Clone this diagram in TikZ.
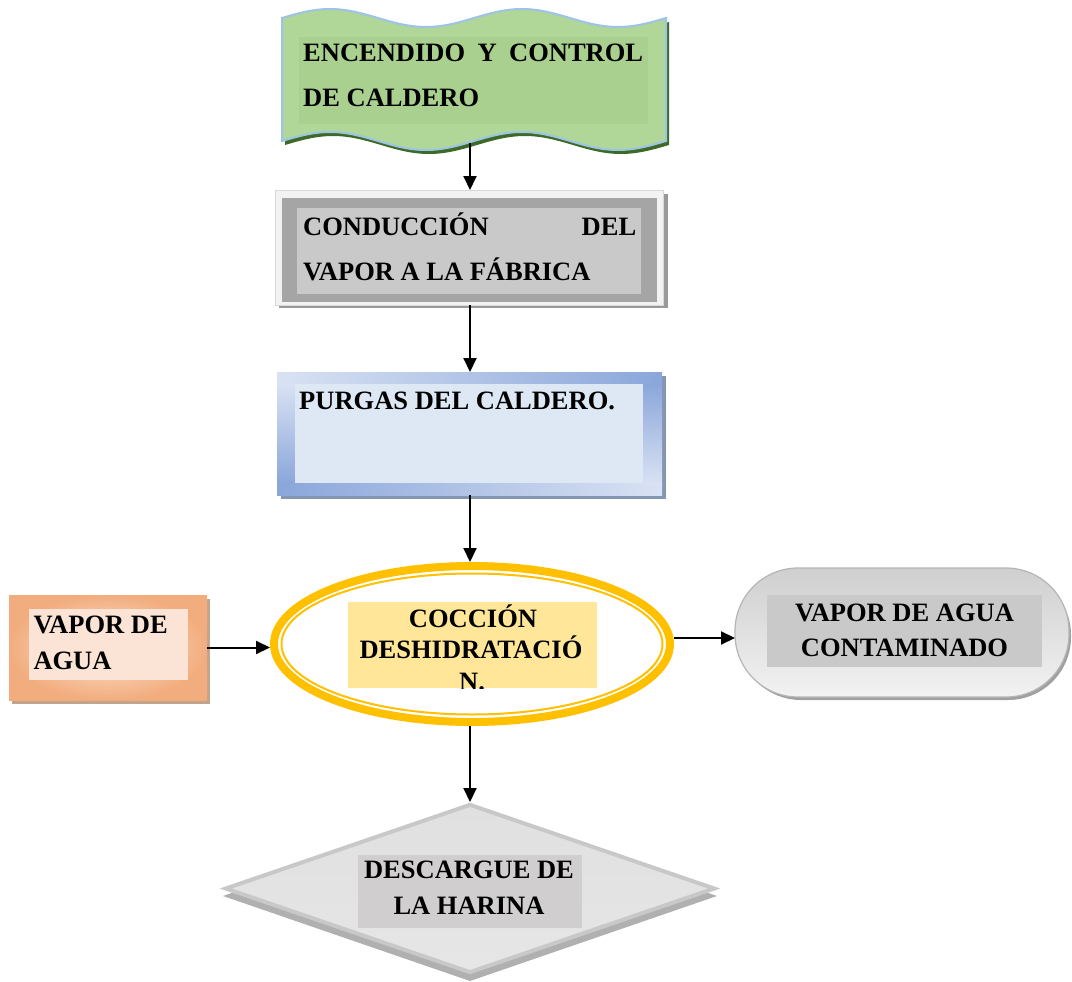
\documentclass[tikz,border=0pt]{standalone}
\usepackage{fontspec}
\setmainfont{Liberation Serif}
\usetikzlibrary{shapes.geometric,arrows.meta,calc}

% palette
\definecolor{wavelight}{HTML}{B0D698}
\definecolor{wavedark}{HTML}{62A23A}
\definecolor{waveshadow}{HTML}{3D6A25}
\definecolor{waveline}{HTML}{9DC3E6}
\definecolor{waveinner}{HTML}{A9D08E}
\definecolor{condlight}{HTML}{F2F2F2}
\definecolor{condedge}{HTML}{D9D9D9}
\definecolor{condmid}{HTML}{A5A5A5}
\definecolor{condinner}{HTML}{C9C9C9}
\definecolor{condshadow}{HTML}{999999}
\definecolor{purdark}{HTML}{8AA6DA}
\definecolor{purlight}{HTML}{D9E2F3}
\definecolor{purinner}{HTML}{DEE8F5}
\definecolor{purshadow}{HTML}{8496B0}
\definecolor{gold}{HTML}{FFC000}
\definecolor{coccinner}{HTML}{FFE699}
\definecolor{vapdark}{HTML}{F2AD7E}
\definecolor{vaplight}{HTML}{FCE6D8}
\definecolor{vapinner}{HTML}{FBE4D5}
\definecolor{vapshadow}{HTML}{C4A38B}
\definecolor{conttop}{HTML}{CFCFCF}
\definecolor{contbottom}{HTML}{F2F2F2}
\definecolor{contedge}{HTML}{B5B5B5}
\definecolor{contshadow}{HTML}{A0A0A0}
\definecolor{continner}{HTML}{C9C9C9}
\definecolor{diaedge}{HTML}{C8C8C8}
\definecolor{diashadow}{HTML}{B0B0B0}
\definecolor{diainner}{HTML}{D0CECE}
\definecolor{diatop}{HTML}{E0E0E0}
\definecolor{diamid}{HTML}{F3F3F3}
\definecolor{diabottom}{HTML}{E6E6E6}

\begin{document}
\begin{tikzpicture}[x=1pt,y=-1pt,
  txt/.style={font=\bfseries\fontsize{26.5}{30}\selectfont, inner sep=0pt, anchor=base west},
  ctxt/.style={txt, anchor=base},
  arr/.style={line width=2pt, -{Triangle[length=14pt,width=13pt]}},
  ghost/.style={inner sep=0pt, outer sep=0pt}]

\useasboundingbox (0,0) rectangle (1072,982);
\coordinate (col) at (470,0);

% ---------- double-wave box: ENCENDIDO Y CONTROL DE CALDERO
\fill[waveshadow, shift={(3,4)}]
  plot[domain=0:384, samples=90] ({282+\x}, {18-9*sin(1.875*\x)})
  -- plot[domain=0:384, samples=90] ({666-\x}, {141-9*sin(1.875*(384-\x))}) -- cycle;
\shade[top color=wavelight, middle color=wavedark, bottom color=wavelight,
       draw=waveline, line width=2pt]
  plot[domain=0:384, samples=90] ({282+\x}, {18-9*sin(1.875*\x)})
  -- plot[domain=0:384, samples=90] ({666-\x}, {141-9*sin(1.875*(384-\x))}) -- cycle;
\node[ghost, minimum width=384pt, minimum height=133pt] (wave) at (474,76.5) {};
\fill[waveinner] (299,37) rectangle (648,124);
\node[txt] (encA) at (303,61.7) {\makebox[340pt][l]{ENCENDIDO\hfill Y\hfill CONTROL}};
\node[txt] (encB) at (303,106.7) {DE CALDERO};

% ---------- framed box: CONDUCCIÓN DEL VAPOR A LA FÁBRICA
\fill[condshadow] (279,194) rectangle (668,308);
\node[ghost, fill=condlight, draw=condedge, line width=0.5pt,
      minimum width=388pt, minimum height=115pt, anchor=north west] (cond) at (275,190) {};
\fill[condmid] (282,198) rectangle (657,302);
\fill[condinner] (297,208) rectangle (641,294);
\node[txt] (condA) at (303,235) {\makebox[333pt][l]{CONDUCCIÓN\hfill DEL}};
\node[txt] (condB) at (303,280) {VAPOR A LA FÁBRICA};

% ---------- blue box: PURGAS DEL CALDERO.
\fill[purshadow] (281,376) rectangle (666,499);
\node[ghost, minimum width=385pt, minimum height=123pt, anchor=north west] (purg) at (277,372) {};
% frame strips: light towards top-left and bottom-right corners
\shade[left color=purlight, right color=purdark] (277,372) rectangle (662,384);
\shade[left color=purdark, right color=purlight] (277,483) rectangle (662,495);
\shade[top color=purlight, bottom color=purdark] (277,383) rectangle (295,484);
\shade[top color=purdark, bottom color=purlight] (643,383) rectangle (662,484);
\fill[purinner] (295,384) rectangle (643,483);
\node[txt] (purgA) at (299,409.3) {PURGAS DEL CALDERO.};

% ---------- ellipse: COCCIÓN DESHIDRATACIÓN.
\node[ellipse, draw=gold, line width=8pt, fill=white, inner sep=0pt,
      minimum width=396pt, minimum height=156pt] (cocc) at (472,644) {};
\draw[gold, line width=2pt] (cocc.center) ellipse [x radius=190.5, y radius=70.5];
\fill[coccinner] (348,602) rectangle (597,688);
\begin{scope}
  \clip (348,602) rectangle (597,688);
  \node[ctxt] (coccA) at (473,627) {COCCIÓN};
  \node[ctxt] (coccB) at (471,658) {DESHIDRATACIÓ};
  \node[ctxt] (coccC) at (472,690) {N.};
\end{scope}

% ---------- left box: VAPOR DE AGUA
\fill[vapshadow] (12,599) rectangle (210,704);
\node[ghost, minimum width=198pt, minimum height=105pt, anchor=north west,
      inner color=vaplight, outer color=vapdark] (vap) at (9,595) {};
\fill[vapinner] (29,609) rectangle (188,680);
\node[txt] (vapA) at (33.3,633.3) {VAPOR DE};
\node[txt] (vapB) at (33.3,669.3) {AGUA};

% ---------- terminal: VAPOR DE AGUA CONTAMINADO
\fill[contshadow, rounded corners=63pt] (738,572) rectangle (1071,700);
\node[ghost, draw=contedge, line width=1.2pt, rounded corners=63pt,
      top color=conttop, bottom color=contbottom,
      minimum width=334pt, minimum height=129pt, anchor=north west] (cont) at (735,568) {};
\fill[continner] (767,595) rectangle (1042,667);
\node[ctxt] (contA) at (904.5,621.7) {VAPOR DE AGUA};
\node[ctxt] (contB) at (904.5,656.7) {CONTAMINADO};

% ---------- diamond: DESCARGUE DE LA HARINA
\fill[diashadow] (470,808) -- (717,896) -- (470,981) -- (223,896) -- cycle;
\node[diamond, draw=diaedge, line width=4pt, inner sep=0pt,
      top color=diatop, middle color=diamid, bottom color=diabottom,
      minimum width=490pt, minimum height=169pt] (desc) at (470,888.5) {};
\fill[diainner] (358,855) rectangle (582,928);
\node[ctxt] (descA) at (469,878) {DESCARGUE DE};
\node[ctxt] (descB) at (469,914) {LA HARINA};

% ---------- connectors
\draw[arr] (wave.south -| col) -- (cond.north -| col);
\draw[arr] (cond.south -| col) -- (purg.north -| col);
\draw[arr] (purg.south -| col) -- (cocc.north -| col);
\draw[arr] (vap.east) -- (vap.east -| cocc.west);
\draw[arr] ([yshift=6pt]cocc.east) -- ([yshift=6pt]cocc.east -| cont.west);
\draw[arr] (cocc.south -| col) -- (desc.north);
\end{tikzpicture}
\end{document}
